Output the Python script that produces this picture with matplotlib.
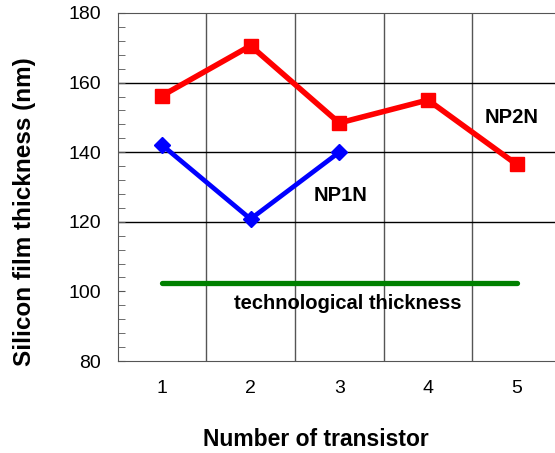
import numpy as np
import matplotlib.pyplot as plt

plt.rcParams['font.family'] = ['Liberation Sans', 'DejaVu Sans']

transistors = [1, 2, 3, 4, 5]
np2n = [156.2, 170.6, 148.4, 155.0, 136.5]
np1n_x = [1, 2, 3]
np1n = [142.1, 120.8, 140.0]
tech_thickness = 102.3
y_ticks = [80, 100, 120, 140, 160, 180]
h_grid = [120, 140, 160]
v_grid = [1.5, 2.5, 3.5, 4.5]

fig = plt.figure(figsize=(5.55, 4.53), dpi=100)
ax = fig.add_axes([117.5 / 555, 92 / 453, 443.5 / 555, 348 / 453])

ax.set_xlim(0.5, 5.5)
ax.set_ylim(80, 180)

# category boundaries and value gridlines
for x in v_grid:
    ax.axvline(x, color='#555555', lw=1.0, zorder=1)
for y in h_grid:
    ax.axhline(y, color='black', lw=1.0, zorder=1)

ax.plot([transistors[0], transistors[-1]], [tech_thickness, tech_thickness],
        color='#008000', lw=3.8, solid_capstyle='round', zorder=3)
ax.plot(transistors, np2n, color='#ff0000', lw=4.0, marker='s', ms=10.5,
        zorder=4)
ax.plot(np1n_x, np1n, color='#0000ff', lw=3.4, marker='D', ms=8, zorder=4)

ax.text(4.94, 150.0, 'NP2N', fontsize=14.5, fontweight='bold', ha='center',
        va='center')
ax.text(3.01, 127.5, 'NP1N', fontsize=14.5, fontweight='bold', ha='center',
        va='center')
ax.text(3.10, 96.5, 'technological thickness', fontsize=14.5,
        fontweight='bold', ha='center', va='center')

ax.set_xticks(transistors)
ax.set_xticklabels([str(t) for t in transistors], fontsize=14)
ax.tick_params(axis='x', length=0, pad=14)
ax.set_yticks(y_ticks)
ax.set_yticklabels([str(v) for v in y_ticks], fontsize=14)
ax.set_yticks(np.arange(80, 181, 4), minor=True)
ax.tick_params(axis='y', which='both', direction='in', length=5,
               color='#555555', pad=12)

for side in ['left', 'bottom', 'top']:
    ax.spines[side].set_color('#555555')
ax.spines['right'].set_visible(False)

ax.set_xlabel('Number of transistor', fontsize=16.5, fontweight='bold',
              va='center')
ax.xaxis.set_label_coords(0.448, -0.226)
ax.set_ylabel('Silicon film thickness (nm)', fontsize=17.5, fontweight='bold',
              va='center')
ax.yaxis.set_label_coords(-0.209, 0.428)

fig.savefig('out.png', dpi=100)
